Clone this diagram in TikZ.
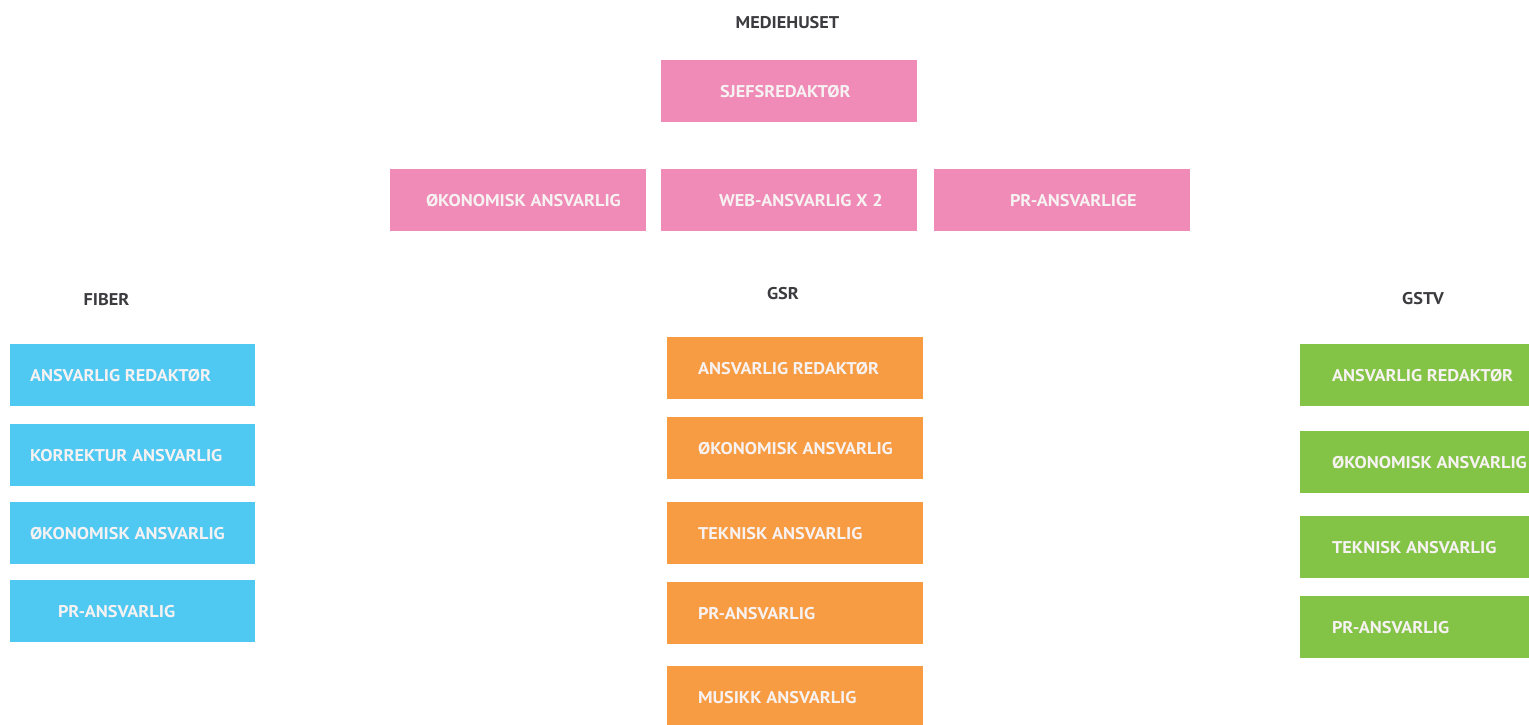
\documentclass[tikz,border=0pt]{standalone}
\usepackage{fontspec}
\setmainfont{PT Sans}[FakeStretch=1.075]
\definecolor{pinkbox}{HTML}{F08BB8}
\definecolor{bluebox}{HTML}{4FC9F2}
\definecolor{orangebox}{HTML}{F79C42}
\definecolor{greenbox}{HTML}{83C447}
\definecolor{boxtext}{HTML}{F7F2F2}
\definecolor{headtext}{HTML}{3C3C40}
\newcommand{\bx}[3]{\makebox[#1pt][l]{\hspace{#2pt}#3}}
\tikzset{
  rolebox/.style={fill=#1, draw=none, inner sep=0pt, minimum height=62pt,
    text height=12pt, text depth=0pt, text=boxtext,
    font=\fontsize{17}{19}\selectfont\bfseries},
  headlabel/.style={inner sep=0pt, text=headtext, text height=12pt, text depth=0pt,
    font=\fontsize{17}{19}\selectfont\bfseries}
}
\begin{document}
\begin{tikzpicture}[x=1pt,y=-1pt]
\useasboundingbox[fill=white] (0,0) rectangle (1529,724);
\clip (0,0) rectangle (1529,724);
% Mediehuset
\node[headlabel] (medie) at (787.5,22) {MEDIEHUSET};
\node[rolebox=pinkbox] (sjef) at (789,91) {\bx{256}{59}{SJEFSREDAKTØR}};
\node[rolebox=pinkbox] (mokon) at (518,200) {\bx{256}{36}{ØKONOMISK ANSVARLIG}};
\node[rolebox=pinkbox] (mweb) at (789,200) {\bx{256}{58}{WEB-ANSVARLIG X 2}};
\node[rolebox=pinkbox] (mpr) at (1062,200) {\bx{256}{76}{PR-ANSVARLIGE}};
% Fiber
\node[headlabel] (fiber) at (106.5,299) {FIBER};
\node[rolebox=bluebox] (f1) at (132.5,375) {\bx{245}{20}{ANSVARLIG REDAKTØR}};
\node[rolebox=bluebox] (f2) at (132.5,455) {\bx{245}{20}{KORREKTUR ANSVARLIG}};
\node[rolebox=bluebox] (f3) at (132.5,533) {\bx{245}{20}{ØKONOMISK ANSVARLIG}};
\node[rolebox=bluebox] (f4) at (132.5,611) {\bx{245}{48}{PR-ANSVARLIG}};
% GSR
\node[headlabel] (gsr) at (783,293) {GSR};
\node[rolebox=orangebox] (g1) at (795,368) {\bx{256}{31}{ANSVARLIG REDAKTØR}};
\node[rolebox=orangebox] (g2) at (795,448) {\bx{256}{31}{ØKONOMISK ANSVARLIG}};
\node[rolebox=orangebox] (g3) at (795,533) {\bx{256}{31}{TEKNISK ANSVARLIG}};
\node[rolebox=orangebox] (g4) at (795,613) {\bx{256}{31}{PR-ANSVARLIG}};
\node[rolebox=orangebox] (g5) at (795,697) {\bx{256}{31}{MUSIKK ANSVARLIG}};
% GSTV
\node[headlabel] (gstv) at (1423,298) {GSTV};
\node[rolebox=greenbox] (t1) at (1428,375) {\bx{256}{32}{ANSVARLIG REDAKTØR}};
\node[rolebox=greenbox] (t2) at (1428,462) {\bx{256}{32}{ØKONOMISK ANSVARLIG}};
\node[rolebox=greenbox] (t3) at (1428,547) {\bx{256}{32}{TEKNISK ANSVARLIG}};
\node[rolebox=greenbox] (t4) at (1428,627) {\bx{256}{32}{PR-ANSVARLIG}};
\end{tikzpicture}
\end{document}
